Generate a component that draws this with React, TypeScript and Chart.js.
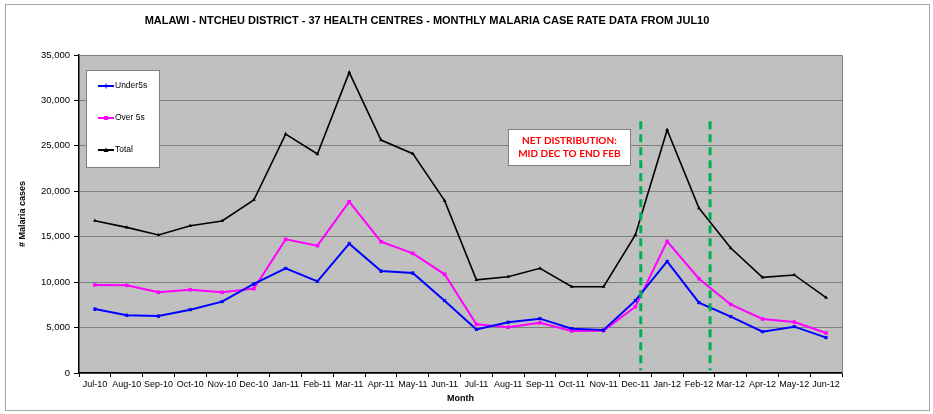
import React, { useEffect, useRef } from "react";
import { Chart, registerables } from "chart.js";

Chart.register(...registerables);

const months = [
  "Jul-10", "Aug-10", "Sep-10", "Oct-10", "Nov-10", "Dec-10",
  "Jan-11", "Feb-11", "Mar-11", "Apr-11", "May-11", "Jun-11",
  "Jul-11", "Aug-11", "Sep-11", "Oct-11", "Nov-11", "Dec-11",
  "Jan-12", "Feb-12", "Mar-12", "Apr-12", "May-12", "Jun-12",
];

const under5s = [
  7050, 6350, 6270, 6970, 7850, 9800, 11520, 10090, 14230, 11230, 11010, 7960,
  4800, 5580, 5980, 4880, 4730, 7960, 12290, 7750, 6200, 4550, 5100, 3890,
];

const over5s = [
  9690, 9650, 8880, 9170, 8880, 9280, 14710, 14010, 18860, 14450, 13170, 10860,
  5360, 5030, 5540, 4620, 4660, 7300, 14490, 10380, 7550, 5940, 5610, 4400,
];

const total = [
  16760, 16030, 15190, 16210, 16730, 19040, 26300, 24100, 33090, 25640, 24140, 18970,
  10250, 10600, 11520, 9500, 9500, 15190, 26750, 18150, 13750, 10530, 10790, 8290,
];

const yTicks = [0, 5000, 10000, 15000, 20000, 25000, 30000, 35000];

// Net distribution period markers (category index positions, mid Dec-11 to end Feb-12)
const netMarkers = [17.17, 19.35];
const netMarkerRange = [27700, 300];

const noteLines = ["NET DISTRIBUTION:", "MID DEC TO END FEB"];
const noteBoxX = [13.0, 16.85];
const noteBoxY = [26850, 22900];

const chartTitle =
  "MALAWI - NTCHEU DISTRICT - 37 HEALTH CENTRES - MONTHLY MALARIA CASE RATE DATA FROM JUL10";

const FONT = "'Liberation Sans', Arial, sans-serif";

export default function App() {
  const canvasRef = useRef<HTMLCanvasElement | null>(null);

  useEffect(() => {
    const canvas = canvasRef.current;
    if (!canvas) return;

    const decorPlugin = {
      id: "decor",
      beforeDraw(chart: any) {
        const { ctx, chartArea } = chart;
        ctx.save();
        ctx.fillStyle = "#ffffff";
        ctx.fillRect(0, 0, chart.width, chart.height);
        ctx.fillStyle = "#C0C0C0";
        ctx.fillRect(
          chartArea.left,
          chartArea.top,
          chartArea.right - chartArea.left,
          chartArea.bottom - chartArea.top
        );
        ctx.restore();
      },
      afterDraw(chart: any) {
        const { ctx, chartArea } = chart;
        const xs = chart.scales.x;
        const ys = chart.scales.y;
        ctx.save();
        // plot area grey border (top & right)
        ctx.strokeStyle = "#808080";
        ctx.lineWidth = 1;
        ctx.beginPath();
        ctx.moveTo(chartArea.left, Math.round(chartArea.top) + 0.5);
        ctx.lineTo(Math.round(chartArea.right) + 0.5, Math.round(chartArea.top) + 0.5);
        ctx.lineTo(Math.round(chartArea.right) + 0.5, chartArea.bottom);
        ctx.stroke();

        // outer chart border
        ctx.strokeStyle = "#A6A6A6";
        ctx.lineWidth = 1;
        ctx.strokeRect(5.5, 4.5, 924, 406);

        // title
        ctx.fillStyle = "#000000";
        ctx.font = `bold 11px ${FONT}`;
        ctx.textAlign = "center";
        ctx.textBaseline = "middle";
        ctx.fillText(chartTitle, 427, 21);

        // green dashed markers
        ctx.strokeStyle = "#00B050";
        ctx.lineWidth = 3;
        ctx.setLineDash([8, 5]);
        netMarkers.forEach((m) => {
          const x = xs.getPixelForValue(m);
          ctx.beginPath();
          ctx.moveTo(x, ys.getPixelForValue(netMarkerRange[0]));
          ctx.lineTo(x, ys.getPixelForValue(netMarkerRange[1]));
          ctx.stroke();
        });
        ctx.setLineDash([]);

        // note box
        const bx1 = xs.getPixelForValue(noteBoxX[0]);
        const bx2 = xs.getPixelForValue(noteBoxX[1]);
        const by1 = ys.getPixelForValue(noteBoxY[0]);
        const by2 = ys.getPixelForValue(noteBoxY[1]);
        ctx.fillStyle = "#ffffff";
        ctx.fillRect(bx1, by1, bx2 - bx1, by2 - by1);
        ctx.strokeStyle = "#808080";
        ctx.lineWidth = 1;
        ctx.strokeRect(Math.round(bx1) + 0.5, Math.round(by1) + 0.5, Math.round(bx2 - bx1), Math.round(by2 - by1));
        ctx.fillStyle = "#FF0000";
        ctx.font = `bold 10px Lato, 'Open Sans', ${FONT}`;
        ctx.textAlign = "center";
        ctx.textBaseline = "middle";
        const cx = (bx1 + bx2) / 2;
        const cy = (by1 + by2) / 2;
        ctx.fillText(noteLines[0], cx, cy - 6.5);
        ctx.fillText(noteLines[1], cx, cy + 6.5);
        ctx.restore();
      },
    };

    const chart = new Chart(canvas, {
      type: "line",
      data: {
        labels: months,
        datasets: [
          {
            label: "Under5s",
            data: under5s,
            borderColor: "#0000FF",
            backgroundColor: "#0000FF",
            borderWidth: 2,
            pointStyle: "crossRot",
            pointRadius: 2,
            pointBorderWidth: 1.5,
            pointBorderColor: "#0000FF",
            tension: 0,
          },
          {
            label: "Over 5s",
            data: over5s,
            borderColor: "#FF00FF",
            backgroundColor: "#FF00FF",
            borderWidth: 2,
            pointStyle: "rect",
            pointRadius: 2.5,
            pointBorderWidth: 0,
            tension: 0,
          },
          {
            label: "Total",
            data: total,
            borderColor: "#000000",
            backgroundColor: "#000000",
            borderWidth: 1.6,
            pointStyle: "triangle",
            pointRadius: 2.2,
            pointBorderWidth: 0,
            tension: 0,
          },
        ],
      },
      options: {
        responsive: false,
        animation: false,
        devicePixelRatio: 1,
        layout: { padding: { top: 55, right: 91, left: 0, bottom: 0 } },
        plugins: {
          legend: { display: false },
          tooltip: { enabled: false },
          title: { display: false },
        },
        scales: {
          x: {
            type: "category",
            offset: true,
            grid: {
              offset: true,
              drawOnChartArea: false,
              drawTicks: true,
              tickLength: 4,
              color: "#000000",
            },
            border: { color: "#000000", width: 1.5 },
            ticks: {
              autoSkip: false,
              maxRotation: 0,
              minRotation: 0,
              color: "#000000",
              padding: 2,
              font: { family: FONT, size: 9 },
            },
            title: {
              display: true,
              text: "Month",
              color: "#000000",
              font: { family: FONT, size: 9, weight: "bold" },
              padding: { top: 0, bottom: 10 },
            },
            afterFit(scale: any) {
              scale.height = 41;
            },
          },
          y: {
            min: 0,
            max: 35000,
            afterBuildTicks(scale: any) {
              scale.ticks = yTicks.map((v) => ({ value: v }));
            },
            grid: {
              color: "#808080",
              lineWidth: 1,
              drawTicks: true,
              tickLength: 5,
              tickColor: "#000000",
            },
            border: { color: "#000000", width: 1.5 },
            ticks: {
              color: "#000000",
              padding: 4,
              font: { family: FONT, size: 9.5 },
              callback: (v: any) => Number(v).toLocaleString("en-US"),
            },
            title: {
              display: true,
              text: "# Malaria cases",
              color: "#000000",
              font: { family: FONT, size: 9, weight: "bold" },
              padding: { top: 17, bottom: 0 },
            },
            afterFit(scale: any) {
              scale.width = 79;
            },
          },
        },
      },
      plugins: [
        decorPlugin,
        {
          id: "customLegend",
          afterDraw(chart: any) {
            const { ctx } = chart;
            ctx.save();
            ctx.fillStyle = "#ffffff";
            ctx.fillRect(86, 70, 73, 97);
            ctx.strokeStyle = "#808080";
            ctx.lineWidth = 1;
            ctx.strokeRect(86.5, 70.5, 73, 97);
            const ys = [86, 118, 150];
            chart.data.datasets.forEach((ds: any, i: number) => {
              const y = ys[i];
              ctx.strokeStyle = ds.borderColor;
              ctx.lineWidth = 2;
              ctx.beginPath();
              ctx.moveTo(98, y);
              ctx.lineTo(114, y);
              ctx.stroke();
              ctx.fillStyle = ds.borderColor;
              if (ds.pointStyle === "rect") {
                ctx.fillRect(104, y - 2, 4, 4);
              } else if (ds.pointStyle === "triangle") {
                ctx.beginPath();
                ctx.moveTo(106, y - 2.5);
                ctx.lineTo(108.5, y + 2);
                ctx.lineTo(103.5, y + 2);
                ctx.closePath();
                ctx.fill();
              } else {
                ctx.lineWidth = 1;
                ctx.beginPath();
                ctx.moveTo(106, y - 2.5);
                ctx.lineTo(106, y + 2.5);
                ctx.stroke();
              }
              ctx.fillStyle = "#000000";
              ctx.font = `8.5px ${FONT}`;
              ctx.textAlign = "left";
              ctx.textBaseline = "middle";
              ctx.fillText(ds.label, 115, y);
            });
            ctx.restore();
          },
        },
      ],
    } as any);

    return () => chart.destroy();
  }, []);

  return (
    <div style={{ position: "absolute", left: 0, top: 0, width: 933, height: 414, background: "#fff" }}>
      <canvas ref={canvasRef} width={933} height={414} style={{ display: "block" }} />
    </div>
  );
}
